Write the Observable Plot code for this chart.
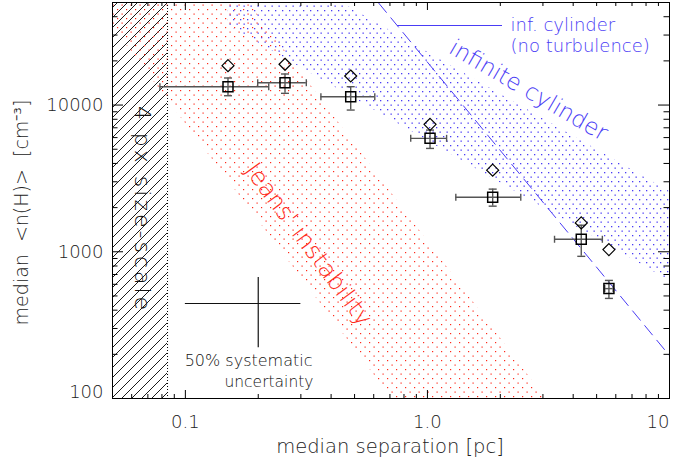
<!DOCTYPE html>
<html><head><meta charset="utf-8">
<script src="https://cdn.jsdelivr.net/npm/d3@7"></script>
<script src="https://cdn.jsdelivr.net/npm/@observablehq/plot@0.6"></script>
<style>
html,body{margin:0;padding:0;background:#fff}
svg{font-family:"DejaVu Sans",sans-serif;font-weight:300}
</style></head><body><div id="chart"></div>
<script>
// ---- data ----
const sep    = [0.150, 0.258, 0.482, 1.025, 1.86, 4.32, 5.62];
const sepLo  = [0.0785, 0.199, 0.363, 0.853, 1.31, 3.35, 5.40];
const sepHi  = [0.221, 0.316, 0.606, 1.20, 2.43, 5.28, 5.85];
const dens   = [13340, 14200, 11400, 5930, 2355, 1217, 561];
const densLo = [11575, 12020, 9245, 5063, 2046, 931, 481];
const densHi = [15290, 16280, 13340, 6750, 2673, 1517, 638];
const densAlt = [18550, 18960, 15780, 7385, 3600, 1573, 1035];

const cylR = [0.5, 10];            // inf. cylinder, no turbulence
const cylN = [78400, 196];
const turbR = [0.15, 10];          // infinite cylinder band
const turbLow = [34920, 635];
const turbHigh = [139260, 2577];
const jeansR = [0.05, 3.5];        // Jeans' instability band
const jeansLow = [34490, 3.01];
const jeansHigh = [865000, 75.5];
const pixScale = [0.05, 0.0844];   // 4 px size-scale
const sysX = [0.2], sysXLo = [0.1], sysXHi = [0.3];
const sysY = [444], sysYLo = [222], sysYHi = [667];

const xMajor = [0.1, 1, 10];
const xMajorLabels = ["0.1", "1.0", "10"];
const xMinor = [0.06,0.07,0.08,0.09,0.2,0.3,0.4,0.5,0.6,0.7,0.8,0.9,2,3,4,5,6,7,8,9];
const yMajor = [100, 1000, 10000];
const yMajorLabels = ["100", "1000", "10000"];
const yMinor = [200,300,400,500,600,700,800,900,2000,3000,4000,5000,6000,7000,8000,9000,20000,30000,40000];

// ---- build ----
const points = sep.map((s, i) => ({s, lo: sepLo[i], hi: sepHi[i], n: dens[i], nlo: densLo[i], nhi: densHi[i], alt: densAlt[i]}));
const cyl = cylR.map((r, i) => ({r, n: cylN[i]}));
const turb = turbR.map((r, i) => ({r, lo: turbLow[i], hi: turbHigh[i]}));
const jeans = jeansR.map((r, i) => ({r, lo: jeansLow[i], hi: jeansHigh[i]}));
const sys = sysX.map((x, i) => ({x, xlo: sysXLo[i], xhi: sysXHi[i], y: sysY[i], ylo: sysYLo[i], yhi: sysYHi[i]}));

const W = 673, H = 466, ML = 112, MR = 4, MT = 2, MB = 68;
const PW = W - ML - MR, PH = H - MT - MB;
const BLUE = "#4a3cf5", RED = "#ff2a1a", BAR = "#555";
const C = {textAnchor: "middle", lineAnchor: "middle"};

const vcap = {draw(c) { c.moveTo(0, -3.5); c.lineTo(0, 3.5); }};
const hcap = {draw(c) { c.moveTo(-4, 0); c.lineTo(4, 0); }};

const defsMark = () => {
  const g = d3.create("svg:g");
  const defs = g.append("defs");
  const dots = (id, w, h, color, pts, s) => {
    const p = defs.append("pattern").attr("id", id).attr("patternUnits", "userSpaceOnUse")
      .attr("width", w).attr("height", h);
    pts.forEach(([x, y]) => p.append("rect").attr("x", x).attr("y", y).attr("width", s).attr("height", s).attr("fill", color));
  };
  dots("redDots", 9, 9, RED, [[0, 0], [4.5, 4.5]], 1.2);
  dots("blueDots", 7, 9, BLUE, [[2, 1], [5.5, 5.5]], 1.3);
  const h = defs.append("pattern").attr("id", "hatch").attr("patternUnits", "userSpaceOnUse")
    .attr("width", 10).attr("height", 10);
  h.append("path").attr("d", "M-1,1L1,-1M0,10L10,0M9,11L11,9").attr("stroke", "#000").attr("stroke-width", 0.9);
  return g.node();
};

const chart = Plot.plot({
  width: W, height: H,
  marginLeft: ML, marginRight: MR, marginTop: MT, marginBottom: MB,
  x: {type: "log", domain: [0.05, 10], axis: null},
  y: {type: "log", domain: [100, 50000], axis: null},
  style: {fontFamily: "DejaVu Sans, sans-serif", fontWeight: 300, color: "#111", background: "#fff"},
  marks: [
    defsMark,
    Plot.rect([pixScale], {x1: d => d[0], x2: d => d[1], y1: 100, y2: 50000, fill: "url(#hatch)"}),
    Plot.areaY(turb, {x: "r", y1: "lo", y2: "hi", fill: "url(#blueDots)", clip: true}),
    Plot.areaY(jeans, {x: "r", y1: "lo", y2: "hi", fill: "url(#redDots)", clip: true}),
    Plot.ruleX([pixScale[1]], {stroke: "#000", strokeDasharray: "1,2", strokeWidth: 1}),
    Plot.line(cyl, {x: "r", y: "n", stroke: BLUE, strokeWidth: 1, strokeDasharray: "12,7", clip: true}),
    // annotation texts
    Plot.text(["4 px size-scale"], {...C, text: d => d, frameAnchor: "top-left", dx: 30, dy: 207, rotate: 90, fontSize: 22, fill: "#111"}),
    Plot.text(["Jeans' instability"], {...C, text: d => d, frameAnchor: "top-left", dx: 196, dy: 242, rotate: 53.5, fontSize: 24, fill: RED}),
    Plot.text(["infinite cylinder"], {...C, text: d => d, frameAnchor: "top-left", dx: 416, dy: 88, rotate: 30, fontSize: 23, fill: BLUE}),
    Plot.text(["inf. cylinder"], {text: d => d, frameAnchor: "top-left", dx: 398, dy: 23, textAnchor: "start", lineAnchor: "middle", fontSize: 18, fill: BLUE}),
    Plot.text(["(no turbulence)"], {text: d => d, frameAnchor: "top-left", dx: 398, dy: 44, textAnchor: "start", lineAnchor: "middle", fontSize: 18, fill: BLUE}),
    Plot.text(["50% systematic"], {text: d => d, frameAnchor: "top-left", dx: 200, dy: 358, textAnchor: "end", lineAnchor: "middle", fontSize: 16, fill: "#111"}),
    Plot.text(["uncertainty"], {text: d => d, frameAnchor: "top-left", dx: 201, dy: 380, textAnchor: "end", lineAnchor: "middle", fontSize: 15.5, fill: "#111"}),
    // systematic uncertainty cross
    Plot.ruleY(sys, {y: "y", x1: "xlo", x2: "xhi", stroke: "#111", strokeWidth: 1.2}),
    Plot.ruleX(sys, {x: "x", y1: "ylo", y2: "yhi", stroke: "#111", strokeWidth: 1.2}),
    // error bars
    Plot.ruleY(points, {y: "n", x1: "lo", x2: "hi", stroke: BAR, strokeWidth: 1.4}),
    Plot.ruleX(points, {x: "s", y1: "nlo", y2: "nhi", stroke: BAR, strokeWidth: 1.4}),
    Plot.dot(points, {x: "lo", y: "n", symbol: vcap, r: 3, fill: "none", stroke: BAR, strokeWidth: 1.4}),
    Plot.dot(points, {x: "hi", y: "n", symbol: vcap, r: 3, fill: "none", stroke: BAR, strokeWidth: 1.4}),
    Plot.dot(points, {x: "s", y: "nlo", symbol: hcap, r: 3, fill: "none", stroke: BAR, strokeWidth: 1.4}),
    Plot.dot(points, {x: "s", y: "nhi", symbol: hcap, r: 3, fill: "none", stroke: BAR, strokeWidth: 1.4}),
    Plot.dot(points, {x: "s", y: "n", symbol: "square", r: 5.64, fill: "none", stroke: "#000", strokeWidth: 1.5}),
    Plot.dot(points, {x: "s", y: "alt", symbol: "diamond2", r: 5.4, fill: "none", stroke: "#000", strokeWidth: 1.2}),
    // inward ticks on all four sides
    Plot.tickX(xMajor, {x: d => d, insetTop: PH - 8, stroke: "#000"}),
    Plot.tickX(xMinor, {x: d => d, insetTop: PH - 4, stroke: "#000"}),
    Plot.tickX(xMajor, {x: d => d, insetBottom: PH - 8, stroke: "#000"}),
    Plot.tickX(xMinor, {x: d => d, insetBottom: PH - 4, stroke: "#000"}),
    Plot.tickY(yMajor, {y: d => d, insetRight: PW - 11, stroke: "#000"}),
    Plot.tickY(yMinor, {y: d => d, insetRight: PW - 5.5, stroke: "#000"}),
    Plot.tickY(yMajor, {y: d => d, insetLeft: PW - 11, stroke: "#000"}),
    Plot.tickY(yMinor, {y: d => d, insetLeft: PW - 5.5, stroke: "#000"}),
    Plot.frame({stroke: "#000", strokeWidth: 1}),
    // tick labels
    Plot.text(xMajor.slice(0, 2), {x: d => d, frameAnchor: "bottom", dy: 24, ...C, text: (d, i) => xMajorLabels[i], fontSize: 18, fill: "#222"}),
    Plot.text(xMajor.slice(2), {x: d => d, frameAnchor: "bottom", dy: 24, textAnchor: "end", lineAnchor: "middle", text: (d, i) => xMajorLabels[2 + i], fontSize: 18, fill: "#222"}),
    Plot.text(yMajor.slice(1), {y: d => d, frameAnchor: "left", dx: -9, textAnchor: "end", lineAnchor: "middle", text: (d, i) => yMajorLabels[1 + i], fontSize: 18, fill: "#222"}),
    Plot.text(yMajor.slice(0, 1), {y: d => d, frameAnchor: "left", dx: -9, dy: -6, textAnchor: "end", lineAnchor: "middle", text: (d, i) => yMajorLabels[i], fontSize: 18, fill: "#222"}),
    // axis titles
    Plot.text(["median separation [pc]"], {...C, text: d => d, frameAnchor: "bottom", dx: -1, dy: 48, fontSize: 19.5, fill: "#222"}),
    Plot.text(["median  <n(H)>  [cm⁻³]"], {...C, text: d => d, frameAnchor: "left", dx: -91, dy: 12, rotate: -90, fontSize: 19, fill: "#222"})
  ]
});

// wider letter spacing of the size-scale annotation, as in the reference
d3.select(chart).selectAll("text").filter(function() { return this.textContent === "4 px size-scale"; })
  .attr("letter-spacing", 3);

// legend line (layout element, pixel positions)
d3.select(chart).append("line")
  .attr("x1", 397).attr("x2", 502).attr("y1", 25.5).attr("y2", 25.5)
  .attr("stroke", BLUE).attr("stroke-width", 1);

document.getElementById("chart").appendChild(chart);
</script></body></html>
